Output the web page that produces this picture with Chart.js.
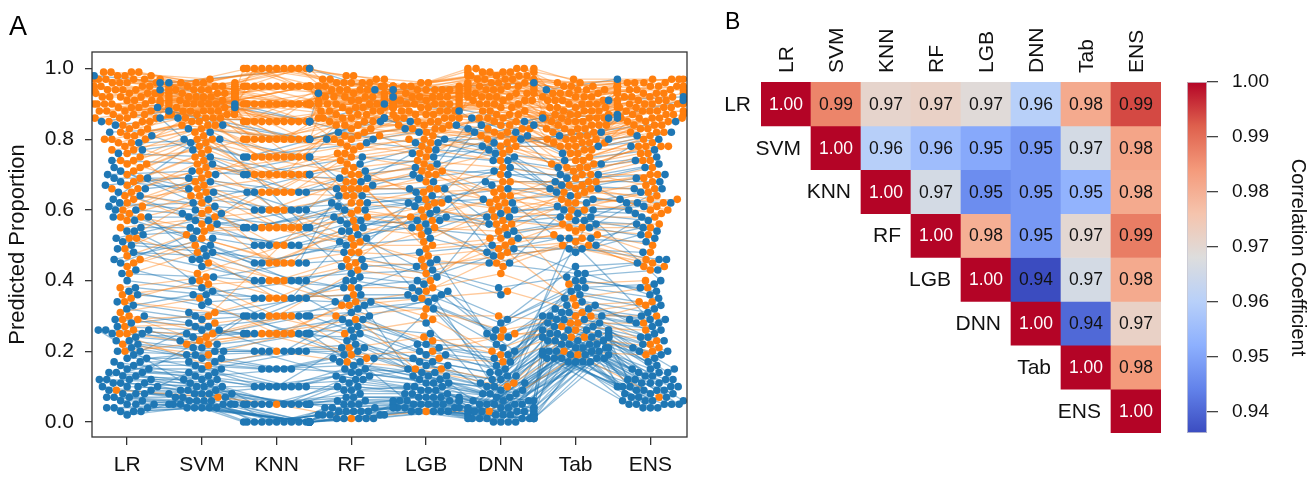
<!DOCTYPE html>
<html>
<head>
<meta charset="utf-8">
<script src="https://cdn.jsdelivr.net/npm/chart.js@4.4.1/dist/chart.umd.min.js"></script>
<style>
  html, body { margin: 0; padding: 0; background: #fff; }
  #wrap { position: relative; width: 1314px; height: 480px; }
  canvas { position: absolute; top: 0; }
</style>
</head>
<body>
<div id="wrap">
  <canvas id="chartSwarm" width="700" height="480" style="left:0"></canvas>
  <canvas id="chartCorr" width="480" height="480" style="left:700px"></canvas>
  <canvas id="chartBar" width="134" height="480" style="left:1180px"></canvas>
</div>
<script>
/* Modelos */
const models = ['LR', 'SVM', 'KNN', 'RF', 'LGB', 'DNN', 'Tab', 'ENS'];
const yTicks = [0.0, 0.2, 0.4, 0.6, 0.8, 1.0];
const barTicks = [0.94, 0.95, 0.96, 0.97, 0.98, 0.99, 1.0];

/* Proporcion predicha por muestra: LR, SVM, KNN, RF, LGB, DNN, Tab, ENS */
const orangeRows = [
  [0.99,0.96,1.00,0.98,0.95,1.00,0.97,0.97],
  [0.98,0.95,1.00,0.97,0.95,0.99,0.95,0.96],
  [0.97,0.95,1.00,0.96,0.94,0.99,0.93,0.96],
  [0.99,0.96,0.95,0.97,0.95,0.98,0.96,0.97],
  [0.96,0.94,0.95,0.95,0.93,0.98,0.92,0.95],
  [0.95,0.94,1.00,0.94,0.94,0.97,0.91,0.95],
  [0.97,0.93,0.95,0.96,0.92,0.99,0.90,0.94],
  [0.94,0.93,0.90,0.93,0.93,0.96,0.89,0.93],
  [0.93,0.92,0.95,0.92,0.92,0.97,0.88,0.93],
  [0.96,0.95,0.90,0.95,0.94,0.95,0.93,0.95],
  [0.92,0.92,0.90,0.91,0.91,0.95,0.87,0.92],
  [0.91,0.91,0.95,0.94,0.92,0.94,0.86,0.91],
  [0.93,0.93,1.00,0.90,0.90,0.96,0.90,0.92],
  [0.90,0.91,0.90,0.92,0.91,0.93,0.85,0.90],
  [0.95,0.92,0.85,0.93,0.93,0.92,0.88,0.93],
  [0.89,0.90,0.90,0.89,0.90,0.94,0.84,0.90],
  [0.92,0.93,0.95,0.91,0.92,0.90,0.91,0.92],
  [0.88,0.90,0.85,0.90,0.89,0.92,0.83,0.89],
  [0.98,0.94,0.90,0.96,0.94,0.91,0.94,0.95],
  [0.87,0.89,0.90,0.88,0.90,0.93,0.82,0.88],
  [0.91,0.90,1.00,0.92,0.89,0.97,0.85,0.91],
  [0.86,0.89,0.85,0.87,0.88,0.90,0.80,0.87],
  [0.94,0.91,0.95,0.89,0.91,0.89,0.89,0.91],
  [0.90,0.92,0.85,0.93,0.92,0.88,0.86,0.90],
  [0.85,0.88,0.80,0.86,0.87,0.91,0.78,0.86],
  [0.97,0.95,0.95,0.90,0.93,1.00,0.92,0.96],
  [0.89,0.91,0.90,0.91,0.88,0.86,0.87,0.89],
  [0.84,0.88,0.85,0.85,0.88,0.89,0.81,0.86],
  [0.93,0.90,0.80,0.88,0.90,0.95,0.84,0.90],
  [0.88,0.89,0.95,0.84,0.89,0.92,0.83,0.88],
  [0.82,0.87,0.80,0.86,0.86,0.87,0.79,0.84],
  [0.96,0.93,0.90,0.94,0.93,0.93,0.90,0.94],
  [0.87,0.90,0.90,0.90,0.87,0.84,0.85,0.88],
  [0.80,0.86,0.85,0.83,0.85,0.88,0.77,0.83],
  [0.91,0.92,1.00,0.97,0.91,0.99,0.88,0.93],
  [0.86,0.87,0.80,0.82,0.86,0.83,0.76,0.85],
  [0.78,0.85,0.75,0.81,0.84,0.85,0.75,0.81],
  [0.90,0.91,0.85,0.89,0.90,0.90,0.86,0.89],
  [0.83,0.88,0.90,0.87,0.85,0.81,0.80,0.85],
  [0.94,0.94,0.95,0.95,0.95,0.96,0.93,0.95],
  [0.81,0.86,0.80,0.80,0.83,0.80,0.78,0.82],
  [0.76,0.84,0.75,0.78,0.80,0.78,0.73,0.79],
  [0.92,0.91,0.90,0.90,0.89,0.98,0.89,0.91],
  [0.85,0.89,0.85,0.88,0.87,0.86,0.82,0.87],
  [0.79,0.83,0.80,0.79,0.82,0.82,0.74,0.80],
  [0.99,0.97,1.00,0.98,0.96,1.00,0.95,0.97],
  [0.88,0.88,0.80,0.85,0.86,0.91,0.81,0.86],
  [0.95,0.93,0.95,0.92,0.92,0.94,0.92,0.94],
  [0.74,0.82,0.70,0.76,0.79,0.76,0.72,0.78],
  [0.84,0.87,0.90,0.84,0.84,0.87,0.79,0.84],
  [0.90,0.89,0.85,0.91,0.88,0.85,0.84,0.88],
  [0.72,0.80,0.75,0.74,0.77,0.74,0.70,0.76],
  [0.97,0.94,0.95,0.93,0.94,0.97,0.94,0.96],
  [0.86,0.88,0.95,0.86,0.86,0.93,0.83,0.87],
  [0.93,0.92,0.85,0.94,0.91,0.92,0.87,0.92],
  [0.99,0.95,1.00,0.93,0.92,0.96,0.86,0.95],
  [0.98,0.93,0.90,0.97,0.90,0.94,0.91,0.94],
  [0.97,0.96,1.00,0.95,0.96,0.98,0.96,0.97],
  [0.95,0.90,0.85,0.96,0.94,0.99,0.93,0.94],
  [0.92,0.94,0.95,0.88,0.93,0.95,0.89,0.93],
  [0.90,0.93,1.00,0.95,0.90,0.98,0.92,0.93],
  [0.88,0.92,0.90,0.93,0.94,0.96,0.90,0.91],
  [0.86,0.91,0.95,0.90,0.89,0.97,0.88,0.90],
  [0.94,0.89,0.80,0.91,0.87,0.90,0.84,0.89],
  [0.96,0.92,0.85,0.90,0.91,0.83,0.87,0.91],
  [0.83,0.90,0.85,0.92,0.90,0.94,0.86,0.88],
  [0.81,0.88,0.90,0.85,0.88,0.99,0.82,0.87],
  [0.89,0.87,0.75,0.87,0.85,0.80,0.80,0.86],
  [0.93,0.95,0.95,0.96,0.95,1.00,0.94,0.95],
  [0.80,0.84,0.70,0.84,0.81,0.86,0.76,0.82],
  [0.77,0.86,0.85,0.80,0.86,0.92,0.79,0.83],
  [0.91,0.90,0.90,0.86,0.92,0.87,0.85,0.90],
  [0.85,0.91,0.95,0.89,0.91,0.95,0.87,0.89],
  [0.97,0.94,0.90,0.92,0.95,0.93,0.91,0.95],
  [0.87,0.85,0.75,0.83,0.84,0.78,0.78,0.84],
  [0.73,0.81,0.65,0.77,0.80,0.83,0.74,0.78],
  [0.82,0.87,0.90,0.88,0.89,0.96,0.83,0.86],
  [0.94,0.96,1.00,0.94,0.93,1.00,0.95,0.96],
  [0.90,0.86,0.80,0.81,0.83,0.81,0.79,0.85],
  [0.79,0.84,0.80,0.86,0.83,0.88,0.80,0.82],
  [0.70,0.78,0.70,0.72,0.74,0.72,0.69,0.74],
  [0.68,0.75,0.65,0.70,0.72,0.68,0.68,0.72],
  [0.77,0.80,0.75,0.75,0.78,0.79,0.73,0.78],
  [0.66,0.72,0.70,0.68,0.70,0.65,0.67,0.70],
  [0.61,0.69,0.65,0.66,0.66,0.62,0.66,0.66],
  [0.64,0.74,0.60,0.64,0.63,0.60,0.65,0.64],
  [0.58,0.65,0.55,0.62,0.60,0.58,0.64,0.61],
  [0.75,0.77,0.80,0.78,0.76,0.82,0.72,0.76],
  [0.60,0.68,0.55,0.60,0.57,0.56,0.62,0.59],
  [0.52,0.64,0.45,0.58,0.55,0.54,0.55,0.55],
  [0.47,0.55,0.55,0.50,0.50,0.52,0.53,0.48],
  [0.45,0.52,0.45,0.48,0.47,0.49,0.51,0.45],
  [0.44,0.50,0.40,0.46,0.44,0.47,0.50,0.43],
  [0.62,0.70,0.75,0.70,0.65,0.66,0.60,0.65],
  [0.69,0.76,0.70,0.66,0.68,0.70,0.63,0.68],
  [0.71,0.79,0.65,0.81,0.75,0.91,0.77,0.78],
  [0.67,0.71,0.75,0.66,0.71,0.77,0.70,0.70],
  [0.63,0.66,0.70,0.73,0.62,0.84,0.71,0.67],
  [0.65,0.60,0.50,0.59,0.58,0.63,0.60,0.62],
  [0.57,0.62,0.65,0.64,0.70,0.61,0.67,0.63],
  [0.55,0.58,0.60,0.52,0.62,0.68,0.66,0.60],
  [0.49,0.59,0.45,0.55,0.53,0.57,0.55,0.53],
  [0.46,0.42,0.50,0.48,0.55,0.45,0.52,0.46],
  [0.74,0.67,0.60,0.68,0.73,0.64,0.68,0.69],
  [0.80,0.73,0.70,0.76,0.71,0.62,0.72,0.74],
  [0.59,0.53,0.45,0.66,0.49,0.51,0.56,0.56],
  [0.66,0.56,0.70,0.62,0.66,0.52,0.62,0.63],
  [0.52,0.45,0.40,0.44,0.58,0.64,0.54,0.50],
  [0.58,0.54,0.55,0.71,0.51,0.60,0.58,0.58],
  [0.73,0.64,0.55,0.57,0.61,0.55,0.65,0.60],
  [0.42,0.48,0.35,0.45,0.42,0.50,0.53,0.44],
  [0.38,0.41,0.35,0.38,0.38,0.42,0.35,0.38],
  [0.36,0.39,0.40,0.33,0.35,0.37,0.31,0.34],
  [0.35,0.40,0.30,0.43,0.40,0.56,0.39,0.40],
  [0.34,0.31,0.35,0.36,0.30,0.30,0.28,0.33],
  [0.31,0.35,0.25,0.34,0.37,0.48,0.33,0.34],
  [0.30,0.25,0.30,0.30,0.32,0.26,0.30,0.30],
  [0.29,0.30,0.55,0.51,0.46,0.44,0.50,0.44],
  [0.29,0.23,0.25,0.33,0.15,0.10,0.30,0.22],
  [0.27,0.28,0.30,0.25,0.29,0.20,0.28,0.28],
  [0.26,0.24,0.30,0.21,0.24,0.19,0.26,0.23],
  [0.25,0.22,0.25,0.29,0.23,0.24,0.27,0.26],
  [0.25,0.16,0.20,0.17,0.15,0.11,0.20,0.19],
  [0.22,0.19,0.25,0.18,0.18,0.17,0.24,0.20],
  [0.20,0.22,0.25,0.19,0.20,0.25,0.24,0.21],
  [0.09,0.07,0.05,0.01,0.03,0.03,0.19,0.07],
];

const blueRows = [
  [0.98,0.96,1.00,0.94,0.94,0.96,0.94,0.97],
  [0.96,0.90,0.85,0.93,0.88,0.84,0.86,0.91],
  [0.94,0.89,0.85,0.90,0.92,0.85,0.91,0.92],
  [0.89,0.84,0.80,0.86,0.82,0.77,0.81,0.85],
  [0.86,0.80,0.75,0.82,0.79,0.81,0.76,0.82],
  [0.85,0.88,0.80,0.85,0.85,0.83,0.86,0.87],
  [0.84,0.86,0.85,0.80,0.84,0.80,0.82,0.86],
  [0.82,0.83,0.80,0.86,0.80,0.84,0.80,0.81],
  [0.81,0.77,0.70,0.75,0.73,0.86,0.73,0.78],
  [0.79,0.80,0.75,0.80,0.83,0.78,0.78,0.80],
  [0.77,0.79,0.75,0.79,0.77,0.76,0.74,0.77],
  [0.76,0.75,0.70,0.73,0.79,0.74,0.72,0.75],
  [0.74,0.73,0.65,0.71,0.75,0.82,0.70,0.74],
  [0.72,0.59,0.65,0.44,0.68,0.82,0.56,0.66],
  [0.71,0.63,0.60,0.67,0.70,0.79,0.65,0.69],
  [0.70,0.71,0.70,0.69,0.72,0.70,0.70,0.73],
  [0.69,0.69,0.65,0.68,0.69,0.72,0.69,0.70],
  [0.69,0.65,0.60,0.51,0.57,0.45,0.60,0.59],
  [0.68,0.66,0.65,0.66,0.66,0.68,0.68,0.68],
  [0.67,0.70,0.75,0.64,0.61,0.67,0.62,0.65],
  [0.66,0.68,0.60,0.64,0.65,0.71,0.67,0.66],
  [0.65,0.57,0.55,0.61,0.64,0.60,0.60,0.61],
  [0.64,0.61,0.60,0.62,0.63,0.66,0.66,0.63],
  [0.63,0.82,0.55,0.69,0.76,0.74,0.66,0.72],
  [0.62,0.60,0.55,0.60,0.62,0.63,0.64,0.62],
  [0.61,0.62,0.70,0.57,0.56,0.75,0.63,0.62],
  [0.60,0.59,0.55,0.58,0.58,0.59,0.61,0.60],
  [0.60,0.52,0.40,0.30,0.35,0.06,0.52,0.29],
  [0.58,0.58,0.50,0.56,0.57,0.58,0.59,0.57],
  [0.58,0.46,0.35,0.54,0.44,0.36,0.49,0.46],
  [0.57,0.50,0.45,0.52,0.59,0.54,0.57,0.56],
  [0.55,0.55,0.50,0.54,0.60,0.56,0.58,0.54],
  [0.54,0.40,0.45,0.62,0.38,0.12,0.58,0.40],
  [0.54,0.46,0.50,0.48,0.41,0.58,0.55,0.52],
  [0.53,0.54,0.50,0.53,0.55,0.52,0.52,0.55],
  [0.52,0.57,0.55,0.60,0.63,0.47,0.50,0.58],
  [0.51,0.49,0.45,0.50,0.52,0.48,0.52,0.51],
  [0.50,0.48,0.45,0.46,0.48,0.50,0.49,0.48],
  [0.49,0.44,0.40,0.38,0.46,0.25,0.44,0.45],
  [0.48,0.47,0.40,0.44,0.45,0.45,0.42,0.46],
  [0.46,0.52,0.50,0.57,0.54,0.62,0.48,0.53],
  [0.45,0.56,0.60,0.55,0.66,0.53,0.57,0.62],
  [0.43,0.38,0.35,0.34,0.36,0.20,0.40,0.38],
  [0.42,0.41,0.40,0.42,0.43,0.38,0.41,0.43],
  [0.40,0.37,0.30,0.41,0.39,0.29,0.38,0.39],
  [0.38,0.36,0.35,0.40,0.37,0.28,0.40,0.37],
  [0.37,0.33,0.25,0.32,0.34,0.14,0.37,0.33],
  [0.36,0.34,0.35,0.36,0.36,0.26,0.38,0.35],
  [0.34,0.31,0.30,0.35,0.35,0.24,0.36,0.32],
  [0.33,0.36,0.40,0.38,0.40,0.49,0.42,0.36],
  [0.32,0.29,0.30,0.33,0.32,0.22,0.35,0.31],
  [0.30,0.28,0.20,0.34,0.28,0.11,0.31,0.29],
  [0.29,0.27,0.30,0.31,0.22,0.21,0.34,0.29],
  [0.28,0.30,0.35,0.27,0.25,0.16,0.32,0.30],
  [0.27,0.26,0.25,0.29,0.21,0.19,0.33,0.28],
  [0.26,0.25,0.25,0.28,0.20,0.17,0.32,0.28],
  [0.26,0.21,0.30,0.17,0.22,0.18,0.33,0.25],
  [0.26,0.08,0.10,0.21,0.06,0.03,0.24,0.10],
  [0.25,0.24,0.25,0.26,0.19,0.15,0.31,0.27],
  [0.25,0.23,0.30,0.25,0.18,0.14,0.30,0.26],
  [0.24,0.22,0.25,0.23,0.17,0.13,0.30,0.24],
  [0.23,0.21,0.20,0.22,0.16,0.12,0.29,0.23],
  [0.23,0.17,0.20,0.29,0.19,0.13,0.30,0.20],
  [0.22,0.20,0.20,0.21,0.15,0.11,0.28,0.21],
  [0.21,0.18,0.15,0.19,0.17,0.10,0.28,0.19],
  [0.20,0.19,0.20,0.20,0.14,0.10,0.27,0.20],
  [0.20,0.27,0.25,0.24,0.13,0.08,0.29,0.24],
  [0.19,0.15,0.10,0.15,0.14,0.06,0.26,0.16],
  [0.18,0.18,0.15,0.18,0.13,0.09,0.27,0.18],
  [0.18,0.20,0.20,0.12,0.37,0.24,0.29,0.22],
  [0.17,0.17,0.15,0.17,0.13,0.08,0.26,0.17],
  [0.17,0.13,0.15,0.14,0.12,0.05,0.25,0.15],
  [0.16,0.16,0.15,0.16,0.12,0.08,0.26,0.15],
  [0.16,0.12,0.10,0.09,0.10,0.05,0.24,0.13],
  [0.15,0.15,0.10,0.15,0.11,0.07,0.25,0.14],
  [0.15,0.26,0.30,0.40,0.07,0.02,0.25,0.14],
  [0.14,0.14,0.10,0.14,0.11,0.07,0.25,0.14],
  [0.14,0.13,0.10,0.13,0.10,0.06,0.24,0.13],
  [0.14,0.11,0.05,0.12,0.09,0.04,0.23,0.12],
  [0.13,0.12,0.10,0.12,0.10,0.06,0.24,0.12],
  [0.13,0.10,0.10,0.10,0.08,0.03,0.22,0.11],
  [0.12,0.12,0.05,0.11,0.09,0.05,0.24,0.12],
  [0.12,0.11,0.05,0.10,0.09,0.05,0.23,0.11],
  [0.12,0.09,0.05,0.06,0.07,0.03,0.22,0.10],
  [0.12,0.19,0.25,0.13,0.16,0.04,0.26,0.15],
  [0.11,0.10,0.05,0.09,0.08,0.05,0.23,0.11],
  [0.11,0.10,0.05,0.08,0.08,0.04,0.23,0.10],
  [0.11,0.08,0.05,0.05,0.07,0.02,0.21,0.09],
  [0.10,0.09,0.05,0.07,0.07,0.04,0.22,0.10],
  [0.10,0.09,0.05,0.07,0.07,0.04,0.22,0.10],
  [0.10,0.07,0.00,0.04,0.06,0.02,0.20,0.08],
  [0.10,0.14,0.20,0.18,0.11,0.09,0.24,0.12],
  [0.09,0.08,0.05,0.06,0.06,0.03,0.21,0.09],
  [0.09,0.08,0.05,0.05,0.06,0.03,0.21,0.09],
  [0.08,0.08,0.00,0.05,0.06,0.03,0.21,0.09],
  [0.08,0.07,0.00,0.04,0.05,0.02,0.20,0.08],
  [0.08,0.06,0.05,0.03,0.06,0.01,0.20,0.07],
  [0.07,0.07,0.00,0.04,0.05,0.02,0.20,0.08],
  [0.07,0.06,0.00,0.03,0.05,0.02,0.20,0.07],
  [0.07,0.05,0.00,0.02,0.05,0.01,0.19,0.06],
  [0.06,0.06,0.00,0.03,0.05,0.02,0.19,0.07],
  [0.06,0.05,0.00,0.03,0.04,0.01,0.18,0.06],
  [0.05,0.06,0.00,0.03,0.04,0.01,0.19,0.06],
  [0.05,0.05,0.00,0.02,0.04,0.01,0.19,0.06],
  [0.05,0.04,0.00,0.01,0.05,0.00,0.18,0.05],
  [0.04,0.05,0.00,0.02,0.04,0.01,0.18,0.05],
  [0.04,0.05,0.00,0.02,0.03,0.01,0.18,0.05],
  [0.04,0.04,0.00,0.02,0.04,0.01,0.17,0.05],
  [0.03,0.04,0.00,0.01,0.03,0.01,0.18,0.05],
  [0.03,0.04,0.00,0.01,0.03,0.00,0.17,0.04],
  [0.03,0.05,0.00,0.01,0.03,0.00,0.17,0.04],
  [0.02,0.04,0.00,0.01,0.03,0.00,0.17,0.04],
];

/* Matriz de correlacion (triangulo superior) */
const corrLR  = [1.00, 0.987, 0.971, 0.972, 0.969, 0.9601, 0.981, 0.994];
const corrSVM = [null, 1.00, 0.960, 0.9555, 0.951, 0.948, 0.966, 0.982];
const corrKNN = [null, null, 1.00, 0.966, 0.946, 0.948, 0.953, 0.981];
const corrRF  = [null, null, null, 1.00, 0.980, 0.948, 0.970, 0.988];
const corrLGB = [null, null, null, null, 1.00, 0.9362, 0.966, 0.981];
const corrDNN = [null, null, null, null, null, 1.00, 0.9405, 0.972];
const corrTab = [null, null, null, null, null, null, 1.00, 0.984];
const corrENS = [null, null, null, null, null, null, null, 1.00];
const corrRows = [corrLR, corrSVM, corrKNN, corrRF, corrLGB, corrDNN, corrTab, corrENS];
const corrMin = 0.9362;
const corrMax = 1.0;

const FONT = "'Liberation Sans', Arial, sans-serif";
Chart.defaults.font.family = FONT;
Chart.defaults.color = '#111';

const ORANGE = '#ff7f0e';
const BLUE = '#1f77b4';

/* coolwarm */
const coolwarm = [
  [0.0, [59, 76, 192]], [0.125, [98, 130, 234]], [0.25, [141, 176, 254]],
  [0.375, [184, 208, 249]], [0.5, [221, 221, 221]], [0.625, [245, 196, 173]],
  [0.75, [244, 154, 123]], [0.875, [222, 96, 77]], [1.0, [180, 4, 38]],
];

getColor = (v) => {
  let t = (v - corrMin) / (corrMax - corrMin);
  t = Math.max(0, Math.min(1, t));
  for (let k = 1; k < coolwarm.length; k++) {
    if (t <= coolwarm[k][0]) {
      let a = coolwarm[k - 1], b = coolwarm[k];
      let f = (t - a[0]) / (b[0] - a[0]);
      let c = a[1].map((x, n) => Math.round(x + (b[1][n] - x) * f));
      return `rgb(${c[0]},${c[1]},${c[2]})`;
    }
  }
  return 'rgb(180,4,38)';
};

/* Swarm: desplazamiento horizontal para que los puntos no se encimen */
const PX_X = 74.8;
const PX_Y = 353;
const DOT = 7.4;
const MAX_OFF = 33;

swarm = (vals) => {
  let order = vals.map((v, i) => i).sort((a, b) => vals[a] - vals[b]);
  let placed = [];
  let offs = new Array(vals.length).fill(0);
  order.forEach((i) => {
    let y = vals[i] * PX_Y;
    let near = placed.filter((p) => Math.abs(p.y - y) < DOT);
    let cands = [0];
    near.forEach((p) => {
      let dx = Math.sqrt(DOT * DOT - (p.y - y) * (p.y - y));
      cands.push(p.x + dx, p.x - dx);
    });
    cands.sort((a, b) => Math.abs(a) - Math.abs(b));
    let x = cands.find((c) =>
      near.every((p) => (p.x - c) * (p.x - c) + (p.y - y) * (p.y - y) >= DOT * DOT - 0.01)
    );
    if (x === undefined) x = 0;
    if (Math.abs(x) > MAX_OFF) x = Math.sign(x) * MAX_OFF;
    placed.push({ x: x, y: y });
    offs[i] = x / PX_X;
  });
  return offs;
};

let allRows = orangeRows.concat(blueRows);
let offsets = models.map((m, j) => swarm(allRows.map((r) => r[j])));
let points = allRows.map((r, s) => r.map((v, j) => ({ x: j + 1 + offsets[j][s], y: v })));

let datasetsA = [];
points.forEach((pts, s) => {
  let isOrange = s < orangeRows.length;
  datasetsA.push({
    data: pts,
    showLine: true,
    borderColor: isOrange ? 'rgba(255,127,14,0.42)' : 'rgba(31,119,180,0.48)',
    borderWidth: 1.3,
    pointRadius: 0,
    order: 2,
  });
});
datasetsA.push({
  data: points.slice(0, orangeRows.length).flat(),
  backgroundColor: ORANGE,
  borderWidth: 0,
  pointRadius: 3.8,
  order: 1,
});
datasetsA.push({
  data: points.slice(orangeRows.length).flat(),
  backgroundColor: BLUE,
  borderWidth: 0,
  pointRadius: 3.8,
  order: 0,
});

const frameA = {
  id: 'frameA',
  afterDraw(chart) {
    let { ctx, chartArea: a } = chart;
    ctx.save();
    ctx.strokeStyle = '#333';
    ctx.lineWidth = 1.3;
    ctx.strokeRect(a.left, a.top, a.right - a.left, a.bottom - a.top);
    ctx.fillStyle = '#000';
    ctx.font = '27px ' + FONT;
    ctx.textBaseline = 'alphabetic';
    ctx.fillText('A', 9, 35);
    ctx.restore();
  },
};

/* Panel A */
let cs = document.getElementById('chartSwarm');
new Chart(cs, {
  type: 'scatter',
  data: { datasets: datasetsA },
  plugins: [frameA],
  options: {
    responsive: false,
    animation: false,
    events: [],
    layout: { padding: { top: 52, right: 13, left: 0, bottom: 0 } },
    plugins: { legend: { display: false }, tooltip: { enabled: false } },
    scales: {
      x: {
        min: 0.53,
        max: 8.49,
        afterBuildTicks: (s) => { s.ticks = models.map((m, i) => ({ value: i + 1 })); },
        afterFit: (s) => { s.height = 43; },
        ticks: {
          callback: (v) => models[Math.round(v) - 1],
          font: { size: 21 },
          color: '#111',
          padding: 8,
          maxRotation: 0,
        },
        grid: { display: true, drawOnChartArea: false, tickLength: 8, color: '#333', lineWidth: 1.3 },
        border: { display: false },
      },
      y: {
        min: -0.0425,
        max: 1.047,
        afterBuildTicks: (s) => { s.ticks = yTicks.map((v) => ({ value: v })); },
        afterFit: (s) => { s.width = 92; },
        ticks: {
          callback: (v) => v.toFixed(1),
          font: { size: 21 },
          color: '#111',
          padding: 11,
        },
        title: {
          display: true,
          text: 'Predicted Proportion',
          font: { size: 22 },
          color: '#111',
          padding: { top: 5, bottom: 0 },
        },
        grid: { display: true, drawOnChartArea: false, tickLength: 7, color: '#333', lineWidth: 1.3 },
        border: { display: false },
      },
    },
  },
});

/* Panel B: mapa de calor */
let datasetsB = corrRows.map((row, i) => ({
  data: row.map((v) => (v === null ? null : [i - 0.5, i + 0.5])),
  backgroundColor: row.map((v) => (v === null ? 'rgba(0,0,0,0)' : getColor(v))),
  borderWidth: 0,
  barPercentage: 1,
  categoryPercentage: 1,
  grouped: false,
}));

const cellText = {
  id: 'cellText',
  afterDatasetsDraw(chart) {
    let { ctx } = chart;
    let xs = chart.scales.x;
    let ys = chart.scales.y;
    let cellW = xs.getPixelForValue(1) - xs.getPixelForValue(0);
    ctx.save();
    ctx.textAlign = 'center';
    ctx.textBaseline = 'middle';
    ctx.font = '17.5px ' + FONT;
    corrRows.forEach((row, i) => {
      row.forEach((v, j) => {
        if (v === null) return;
        ctx.fillStyle = i === j ? '#fff' : '#111';
        ctx.fillText(v.toFixed(2), xs.getPixelForValue(j), ys.getPixelForValue(i) + 1);
      });
    });
    // etiquetas de fila, junto a la diagonal
    ctx.font = '21px ' + FONT;
    ctx.textAlign = 'right';
    ctx.fillStyle = '#111';
    models.forEach((m, i) => {
      ctx.fillText(m, xs.getPixelForValue(i) - cellW / 2 - 10, ys.getPixelForValue(i) + 1);
    });
    // etiquetas de columna, giradas
    ctx.textAlign = 'left';
    models.forEach((m, j) => {
      ctx.save();
      ctx.translate(xs.getPixelForValue(j) + 1, chart.chartArea.top - 9);
      ctx.rotate(-Math.PI / 2);
      ctx.fillText(m, 0, 0);
      ctx.restore();
    });
    ctx.fillStyle = '#000';
    ctx.textBaseline = 'alphabetic';
    ctx.font = '23px ' + FONT;
    ctx.fillText('B', 25, 29);
    ctx.restore();
  },
};

let cc = document.getElementById('chartCorr');
new Chart(cc, {
  type: 'bar',
  data: { labels: models, datasets: datasetsB },
  plugins: [cellText],
  options: {
    responsive: false,
    animation: false,
    events: [],
    layout: { padding: { top: 0, right: 19, left: 61, bottom: 47 } },
    plugins: { legend: { display: false }, tooltip: { enabled: false } },
    scales: {
      x: {
        type: 'category',
        position: 'top',
        offset: true,
        afterFit: (s) => { s.height = 82; },
        ticks: { display: false },
        grid: { display: false, drawTicks: false },
        border: { display: false },
      },
      y: {
        type: 'linear',
        reverse: true,
        min: -0.5,
        max: 7.5,
        display: false,
      },
    },
  },
});

/* Barra de color */
const colorBar = {
  id: 'colorBar',
  beforeDatasetsDraw(chart) {
    let { ctx, chartArea: a } = chart;
    let g = ctx.createLinearGradient(0, a.bottom, 0, a.top);
    coolwarm.forEach((c) => g.addColorStop(c[0], `rgb(${c[1][0]},${c[1][1]},${c[1][2]})`));
    ctx.save();
    ctx.fillStyle = g;
    ctx.fillRect(a.left, a.top, a.right - a.left, a.bottom - a.top);
    ctx.strokeStyle = 'rgba(200,200,210,0.8)';
    ctx.lineWidth = 1;
    ctx.strokeRect(a.left + 0.5, a.top + 0.5, a.right - a.left - 1, a.bottom - a.top - 1);
    ctx.restore();
  },
};

let cb = document.getElementById('chartBar');
new Chart(cb, {
  type: 'scatter',
  data: { datasets: [] },
  plugins: [colorBar],
  options: {
    responsive: false,
    animation: false,
    events: [],
    layout: { padding: { top: 82, right: 0, left: 7, bottom: 47 } },
    plugins: { legend: { display: false }, tooltip: { enabled: false } },
    scales: {
      x: { display: false, min: 0, max: 1 },
      y: {
        position: 'right',
        min: corrMin,
        max: corrMax,
        afterBuildTicks: (s) => { s.ticks = barTicks.map((v) => ({ value: v })); },
        afterFit: (s) => { s.width = 107; },
        ticks: { callback: (v) => v.toFixed(2), font: { size: 19 }, color: '#111', padding: 14 },
        title: {
          display: true,
          text: 'Correlation Coefficient',
          font: { size: 20 },
          color: '#111',
          padding: { top: 4, bottom: 0 },
        },
        grid: { display: true, drawOnChartArea: false, tickLength: 11, color: '#444', lineWidth: 1.3 },
        border: { display: false },
      },
    },
  },
});
</script>
</body>
</html>
